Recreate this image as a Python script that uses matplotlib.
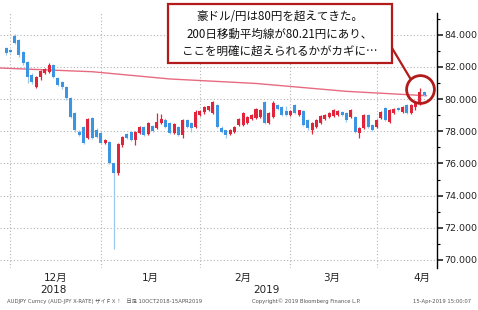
import matplotlib
matplotlib.use("Agg")
import matplotlib.pyplot as plt
from matplotlib.lines import Line2D
from matplotlib.patches import Rectangle
from matplotlib.ticker import FixedLocator
import matplotlib.transforms as mtransforms

plt.rcParams['font.family'] = ['DejaVu Sans', 'Noto Sans CJK JP']

# AUD/JPY daily candles, 29 Nov 2018 - 15 Apr 2019
opens = [83.17, 83.05, 83.92, 83.67, 82.92, 82.30, 81.49, 80.75, 81.37, 81.62,
         81.68, 82.11, 81.31, 81.06, 80.75, 80.06, 79.13, 77.95, 78.26, 77.58,
         78.82, 78.07, 77.89, 77.27, 77.33, 76.02, 75.40, 77.14, 77.82, 77.95,
         77.45, 77.89, 78.26, 77.82, 78.32, 78.20, 78.51, 78.70, 78.51, 77.89,
         78.26, 77.76, 78.70, 78.51, 78.26, 79.01, 79.19, 79.32, 79.13, 79.63,
         78.20, 78.07, 77.82, 77.95, 78.38, 78.38, 78.51, 78.76, 78.82, 78.88,
         79.81, 78.51, 78.88, 79.63, 79.50, 79.25, 79.01, 79.63, 79.01, 79.25,
         78.70, 78.07, 78.26, 78.51, 78.76, 78.88, 78.94, 79.01, 79.19, 79.13,
         78.88, 78.88, 77.89, 78.20, 79.01, 78.38, 78.26, 78.82, 79.44, 78.57,
         79.13, 79.44, 79.19, 79.63, 79.13, 79.50, 79.81, 80.43]
closes = [82.86, 82.92, 83.48, 82.73, 82.24, 81.37, 81.06, 81.37, 81.74, 81.86,
          82.11, 81.37, 80.87, 80.75, 80.06, 78.88, 78.07, 77.76, 77.27, 78.76,
          77.58, 77.64, 77.27, 77.45, 76.02, 75.40, 77.20, 77.64, 77.58, 77.45,
          77.95, 78.26, 77.76, 78.51, 78.01, 78.57, 78.76, 78.26, 77.89, 78.45,
          77.76, 78.70, 78.26, 78.20, 79.19, 79.25, 79.50, 79.56, 79.81, 78.26,
          77.95, 77.76, 78.07, 78.26, 78.76, 79.13, 78.88, 79.01, 79.38, 79.32,
          78.51, 79.13, 79.75, 79.38, 79.01, 79.01, 79.25, 79.13, 79.32, 78.38,
          78.20, 78.51, 78.70, 78.94, 79.01, 79.13, 79.32, 79.25, 79.01, 78.70,
          79.32, 77.95, 78.20, 79.01, 78.26, 78.07, 78.70, 79.19, 78.70, 79.32,
          79.38, 79.32, 79.50, 79.13, 79.63, 79.81, 80.43, 80.25]
highs = [83.25, 83.10, 84.05, 83.75, 83.00, 82.35, 81.60, 81.45, 81.80, 81.95,
         82.23, 82.20, 81.40, 81.15, 80.80, 80.10, 79.20, 78.10, 78.30, 78.85,
         78.90, 78.20, 78.00, 77.50, 77.40, 76.05, 77.30, 77.70, 77.90, 78.00,
         78.00, 78.35, 78.30, 78.60, 78.40, 79.13, 79.07, 78.80, 78.60, 78.50,
         78.30, 78.75, 78.75, 78.60, 79.32, 79.30, 79.55, 79.60, 79.90, 79.70,
         78.30, 78.10, 78.15, 78.35, 78.80, 79.20, 78.95, 79.10, 79.45, 79.40,
         79.90, 79.20, 79.85, 79.70, 79.55, 79.60, 79.30, 79.70, 79.35, 79.30,
         78.75, 78.55, 78.75, 79.00, 79.10, 79.20, 79.40, 79.35, 79.25, 79.20,
         79.40, 78.95, 78.25, 79.05, 79.05, 78.45, 78.75, 79.25, 79.50, 79.40,
         79.45, 79.50, 79.55, 79.70, 79.70, 79.85, 80.68, 80.50]
lows = [82.73, 82.85, 83.40, 82.60, 82.10, 81.00, 80.95, 80.70, 81.20, 81.55,
        81.60, 81.30, 80.80, 80.65, 79.95, 78.80, 77.95, 77.70, 77.20, 77.50,
        77.50, 77.60, 77.20, 77.20, 75.95, 70.68, 75.28, 77.00, 77.50, 77.40,
        77.14, 77.85, 77.70, 77.75, 77.95, 78.15, 78.45, 78.20, 77.80, 77.85,
        77.70, 77.57, 78.20, 77.95, 78.20, 78.95, 79.10, 79.25, 79.05, 78.20,
        77.90, 77.57, 77.75, 77.90, 78.30, 78.30, 78.45, 78.70, 78.75, 78.80,
        78.45, 78.45, 78.80, 79.30, 78.95, 78.95, 78.95, 79.05, 78.95, 78.30,
        78.10, 77.82, 78.20, 78.45, 78.70, 78.85, 78.90, 78.95, 78.95, 78.60,
        78.80, 77.90, 77.57, 78.15, 78.20, 78.00, 78.20, 78.75, 78.65, 78.50,
        79.10, 79.28, 79.15, 79.10, 79.10, 79.32, 79.63, 80.20]

# 200-day moving average, read at a few points along the line
ma_idx = [-1.4, 20, 38, 58, 79, 97.5]
ma_vals = [81.93, 81.70, 81.25, 80.97, 80.48, 80.21]

month_lines = [1, 22, 45, 66, 86]
month_pos = [11.5, 33.5, 55, 75.5, 96.5]
month_labels = ['12月', '1月', '2月', '3月', '4月']
year_pos = [11.0, 60.5]
year_labels = ['2018', '2019']
yticks = [70, 72, 74, 76, 78, 80, 82, 84]
yminor = [71, 73, 75, 77, 79, 81, 83, 85]

note = ['豪ドル/円は80円を超えてきた。',
        '200日移動平均線が80.21円にあり、',
        'ここを明確に超えられるかがカギに…']

up_col = '#e0243c'
down_col = '#3b95e3'
down_wick = '#9cc8ef'
box_col = '#b31b1b'

W, H = 478, 310
fig = plt.figure(figsize=(W / 100, H / 100), dpi=100)
ax = fig.add_axes([0, 1 - 268 / H, 437 / W, 255 / H])

for y in yticks:
    ax.axhline(y, color='#b4b4b4', lw=0.8, ls=(0, (1, 2)), zorder=0)
for x in month_lines:
    ax.axvline(x, color='#b4b4b4', lw=0.8, ls=(0, (1, 2)), zorder=0)

ax.plot(ma_idx, ma_vals, color='#e86a80', lw=1.0, zorder=1)

idx = list(range(len(opens)))
cols = [up_col if c >= o else down_col for o, c in zip(opens, closes)]
wcols = [up_col if c >= o else down_wick for o, c in zip(opens, closes)]
ax.vlines(idx, lows, highs, colors=wcols, lw=0.9, zorder=2)
bottoms = [min(o, c) for o, c in zip(opens, closes)]
heights = [max(abs(c - o), 0.04) for o, c in zip(opens, closes)]
ax.bar(idx, heights, bottom=bottoms, width=0.7, color=cols, zorder=3)

ax.set_xlim(-1.4, 100)
ax.set_ylim(69.5, 85.35)
ax.set_xticks([])
ax.yaxis.tick_right()
ax.set_yticks(yticks)
ax.set_yticklabels([f'{v:.3f}' for v in yticks])
ax.yaxis.set_minor_locator(FixedLocator(yminor))
ax.tick_params(axis='y', which='major', direction='out', length=4, width=1.2,
               labelsize=6.8, pad=1.5, colors='#222222')
ax.tick_params(axis='y', which='minor', direction='out', length=2.5, width=0.8)
for s in ['top', 'left', 'bottom']:
    ax.spines[s].set_visible(False)
ax.spines['right'].set_linewidth(1.0)

trans = mtransforms.blended_transform_factory(ax.transData, ax.transAxes)
for p, lab in zip(month_pos, month_labels):
    ax.text(p, -0.04, lab, transform=trans, ha='center', va='center',
            fontsize=7.5, color='#222222', clip_on=False)
for p, lab in zip(year_pos, year_labels):
    ax.text(p, -0.087, lab, transform=trans, ha='center', va='center',
            fontsize=7.5, color='#222222', clip_on=False)

# annotation box, connector and circle
fig.add_artist(Rectangle((168 / W, 1 - 63 / H), 224 / W, 59 / H,
                         transform=fig.transFigure, facecolor='white',
                         edgecolor=box_col, lw=1.6, zorder=5))
for i, line in enumerate(note):
    fig.text(280 / W, 1 - (17 + 17 * i) / H, line, ha='center', va='center',
             fontsize=8.3, family=['Noto Sans CJK JP', 'DejaVu Sans'],
             color='#111111', zorder=6)
fig.add_artist(Line2D([392 / W, 410 / W], [1 - 48 / H, 1 - 78 / H],
                      transform=fig.transFigure, color=box_col, lw=1.6))
fig.add_artist(Line2D([420 / W], [1 - 89 / H], transform=fig.transFigure,
                      marker='o', markersize=20, mfc='none', mec=box_col,
                      mew=2.0))

fig.text(7 / W, 1 - 301 / H,
         'AUDJPY Curncy (AUD-JPY X-RATE) ザイＦＸ！   日足 10OCT2018-15APR2019',
         fontsize=3.8, color='#555555', va='center')
fig.text(252 / W, 1 - 301 / H, 'Copyright© 2019 Bloomberg Finance L.P.',
         fontsize=3.8, color='#555555', va='center')
fig.text(413 / W, 1 - 301 / H, '15-Apr-2019 15:00:07',
         fontsize=3.8, color='#555555', va='center')

fig.savefig('out.png', dpi=100)
